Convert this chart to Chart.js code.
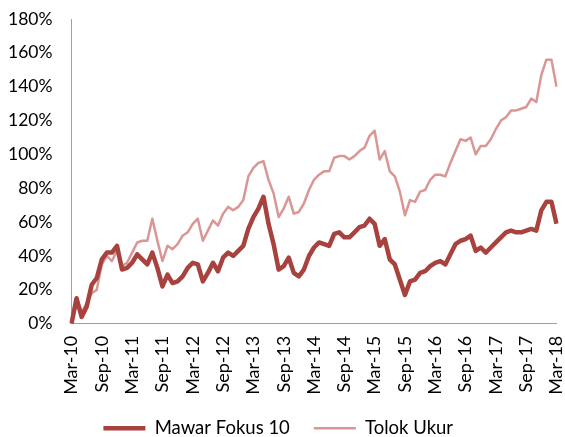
<!DOCTYPE html>
<html>
<head>
<meta charset="utf-8">
<script src="https://cdn.jsdelivr.net/npm/chart.js@4"></script>
<style>
  html, body { margin: 0; padding: 0; background: #fff; }
  #wrap { width: 565px; height: 437px; }
</style>
</head>
<body>
<div id="wrap"><canvas id="perfChart"></canvas></div>
<script>
// monthly, Mar-10 .. Mar-18
const monthNames = ['Jan', 'Feb', 'Mar', 'Apr', 'May', 'Jun', 'Jul', 'Aug', 'Sep', 'Oct', 'Nov', 'Dec'];
const tickLabels = ['Mar-10', 'Sep-10', 'Mar-11', 'Sep-11', 'Mar-12', 'Sep-12', 'Mar-13', 'Sep-13',
  'Mar-14', 'Sep-14', 'Mar-15', 'Sep-15', 'Mar-16', 'Sep-16', 'Mar-17', 'Sep-17', 'Mar-18'];

const mawarFokus = [
  0, 15, 4, 10, 23, 27, 38, 42, 42, 46, 32, 33,
  36, 41, 38, 35, 42, 33, 22, 29, 24, 25, 28, 33,
  36, 35, 25, 30, 36, 31, 39, 42, 40, 43, 46, 56,
  63, 68, 75, 59, 47, 32, 34, 39, 30, 28, 32, 40,
  45, 48, 47, 46, 53, 54, 51, 51, 54, 57, 58, 62,
  59, 46, 50, 38, 35, 26, 17, 25, 26, 30, 31, 34,
  36, 37, 35, 41, 47, 49, 50, 52, 43, 45, 42, 45,
  48, 51, 54, 55, 54, 54, 55, 56, 55, 67, 72, 72,
  59
];

const tolokUkur = [
  0, 14, 7, 12, 18, 20, 35, 40, 37, 43, 34, 36,
  42, 48, 49, 49, 62, 49, 37, 46, 44, 47, 52, 54,
  59, 62, 49, 55, 61, 58, 65, 69, 67, 69, 73, 87,
  92, 95, 96, 85, 77, 63, 68, 75, 65, 66, 71, 79,
  85, 88, 90, 90, 98, 99, 99, 97, 99, 102, 104, 111,
  114, 97, 102, 90, 87, 78, 64, 73, 72, 78, 79, 85,
  88, 88, 87, 95, 102, 109, 108, 110, 100, 105, 105, 109,
  115, 120, 122, 126, 126, 127, 128, 133, 131, 147, 156, 156,
  140
];

const months = [];
for (let i = 0; i < mawarFokus.length; i++) {
  const m = (2 + i) % 12;
  const y = 10 + Math.floor((2 + i) / 12);
  months.push(monthNames[m] + '-' + y);
}

const fontFamily = 'Lato, "Open Sans", sans-serif';
const ctx = document.getElementById('perfChart').getContext('2d');

const perfChart = new Chart(ctx, {
  type: 'line',
  data: {
    labels: months,
    datasets: [
      {
        label: 'Mawar Fokus 10',
        data: mawarFokus,
        borderColor: '#a7423f',
        backgroundColor: '#a7423f',
        borderWidth: 4.5,
        borderJoinStyle: 'round',
        pointRadius: 0,
        tension: 0
      },
      {
        label: 'Tolok Ukur',
        data: tolokUkur,
        borderColor: '#da9694',
        backgroundColor: '#da9694',
        borderWidth: 2.5,
        borderJoinStyle: 'round',
        pointRadius: 0,
        tension: 0
      }
    ]
  },
  options: {
    responsive: true,
    maintainAspectRatio: false,
    animation: false,
    layout: {
      padding: { top: 19, right: 8.5, left: 0, bottom: 0 }
    },
    plugins: {
      legend: {
        position: 'bottom',
        maxHeight: 42,
        labels: {
          usePointStyle: true,
          pointStyle: 'line',
          pointStyleWidth: 42,
          boxWidth: 42,
          padding: 24,
          color: '#000',
          font: { family: fontFamily, size: 18.5 }
        }
      },
      tooltip: { enabled: false }
    },
    scales: {
      x: {
        grid: { display: false, drawTicks: false },
        border: { display: true, color: '#a0a0a0', width: 1 },
        afterFit: function(scale) {
          scale.height = 71.3;
          scale.paddingRight = 0;
        },
        ticks: {
          autoSkip: false,
          minRotation: 90,
          maxRotation: 90,
          padding: 12,
          color: '#000',
          font: { family: fontFamily, size: 18 },
          callback: function(value, index) {
            return index % 6 === 0 ? tickLabels[index / 6] : null;
          }
        }
      },
      y: {
        min: 0,
        max: 180,
        grid: { display: false, drawTicks: false },
        border: { display: true, color: '#a0a0a0', width: 1 },
        afterFit: function(scale) {
          scale.width = 71.5;
          scale.paddingTop = 0;
          scale.paddingBottom = 0;
        },
        ticks: {
          stepSize: 20,
          padding: 19,
          color: '#000',
          font: { family: fontFamily, size: 17.5 },
          callback: function(value) {
            return value + '%';
          }
        }
      }
    }
  }
});
</script>
</body>
</html>
